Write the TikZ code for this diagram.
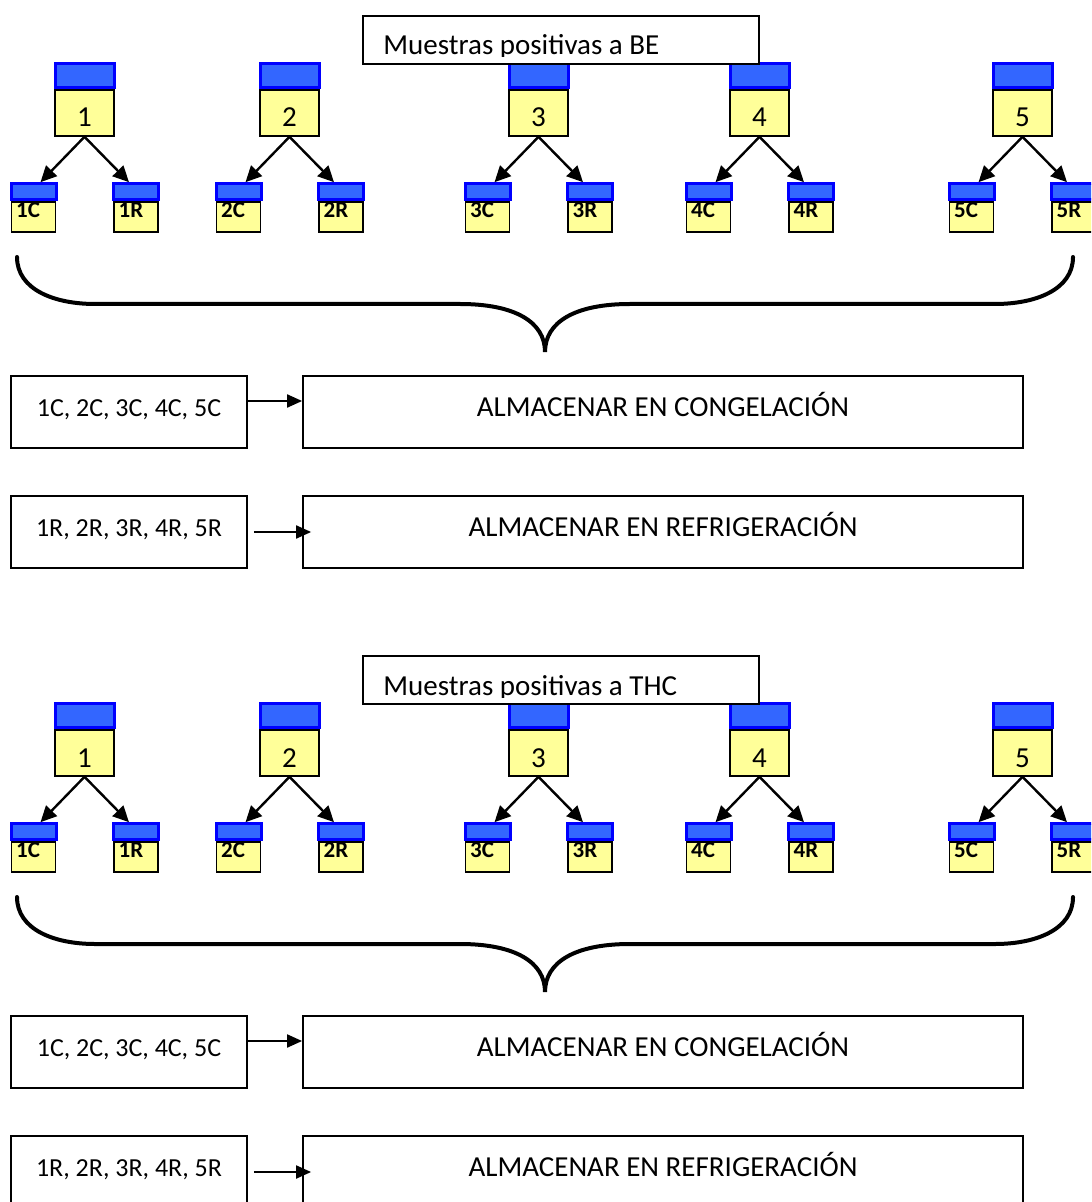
\documentclass[tikz,border=0pt]{standalone}
\usepackage{fontspec}
\setmainfont{Carlito}
\usetikzlibrary{arrows.meta,positioning,calc}

\definecolor{capblue}{RGB}{51,102,255}
\definecolor{tubeyellow}{RGB}{255,255,153}

\tikzset{
  tubebody/.style={draw=black,line width=0.8pt,fill=tubeyellow,inner sep=0pt,
    minimum width=29.5pt,minimum height=23pt,text height=14pt,text depth=0pt,
    font=\fontsize{14.5}{17}\selectfont},
  tubecap/.style={draw=blue,line width=1.5pt,fill=capblue,inner sep=0pt,
    minimum width=29.5pt,minimum height=12pt,anchor=south},
  smallbody/.style={draw=black,line width=0.8pt,fill=tubeyellow,inner sep=0pt,
    minimum width=22pt,minimum height=15pt},
  smallcap/.style={draw=blue,line width=1.5pt,fill=capblue,inner sep=0pt,
    minimum width=22.5pt,minimum height=8pt,anchor=south},
  smalllab/.style={font=\fontsize{11.5}{13}\selectfont\bfseries,inner sep=0pt,anchor=base west},
  splitarrow/.style={line width=1.2pt,-{Triangle[length=8pt,width=7.5pt]}},
  titlebox/.style={draw,fill=white,line width=0.9pt,minimum width=198pt,minimum height=24pt},
  listbox/.style={draw,line width=0.9pt,minimum width=118pt,minimum height=36pt,
    inner xsep=2pt,text height=9.5pt,text depth=5pt,
    font=\fontsize{13}{16}\selectfont},
  storebox/.style={draw,line width=0.9pt,minimum width=360pt,minimum height=36pt,
    text height=9.5pt,text depth=5pt,font=\fontsize{14.5}{17}\selectfont},
  listarrow/.style={line width=1pt,-{Triangle[length=7.5pt,width=6.5pt]}},
  brace/.style={line width=2pt,line cap=round},
}

\begin{document}
\begin{tikzpicture}[x=0.5pt,y=-0.5pt]

\useasboundingbox (0,0) rectangle (1091,1202);
\clip (0,0) rectangle (1091,1202);

\foreach \blk/\dy/\what in {A/0/BE,B/640/THC}{
\begin{scope}[shift={(0,\dy)}]

  % tubes and split
  \foreach \i/\x in {1/84.5,2/289.5,3/538.5,4/759.5,5/1022.5}{
    \node[tubebody] (s\blk\i) at (\x,113) {\i};
    \node[tubecap] (s\blk\i cap) at (s\blk\i.north) {};
    \node[smallbody] (s\blk\i C) at (\x-51,217) {};
    \node[smallcap] (s\blk\i Ccap) at (s\blk\i C.north) {};
    \node[smallbody] (s\blk\i R) at (\x+51.5,217) {};
    \node[smallcap] (s\blk\i Rcap) at (s\blk\i R.north) {};
    \node[smalllab] at ([xshift=2.5pt,yshift=-8pt]s\blk\i C.north west) {\i C};
    \node[smalllab] at ([xshift=2.5pt,yshift=-8pt]s\blk\i R.north west) {\i R};
    \draw[splitarrow] (s\blk\i.south) -- ([xshift=3.5pt]s\blk\i Ccap.north);
    \draw[splitarrow] (s\blk\i.south) -- ([xshift=-3.5pt]s\blk\i Rcap.north);
  }

  % title
  \node[titlebox] (t\blk) at (561,40) {};
  \begin{scope}
    \clip (t\blk.north west) rectangle (759,57);
    \node[anchor=base west,inner sep=0pt,font=\fontsize{14.5}{17}\selectfont]
      at (383,55) {Muestras positivas a \what};
  \end{scope}

  % brace
  \draw[brace] (17,257) .. controls (17,290) and (55,304) .. (95,304) -- (460,304)
    .. controls (515,304) and (545,322) .. (545,352)
    .. controls (545,322) and (575,304) .. (630,304) -- (995,304)
    .. controls (1035,304) and (1073,290) .. (1073,257);

  % storage
  \node[listbox] (c\blk C) at (129,412) {1C, 2C, 3C, 4C, 5C};
  \node[storebox] (a\blk C) at (663,412) {ALMACENAR EN CONGELACIÓN};
  \node[listbox] (c\blk R) at (129,532) {1R, 2R, 3R, 4R, 5R};
  \node[storebox] (a\blk R) at (663,532) {ALMACENAR EN REFRIGERACIÓN};
  \draw[listarrow] ([yshift=5.5pt]c\blk C.east) -- ([yshift=5.5pt]a\blk C.west);
  \draw[listarrow] ([xshift=3pt]c\blk R.east) -- ([xshift=4.5pt]a\blk R.west);

\end{scope}
}

\end{tikzpicture}
\end{document}
